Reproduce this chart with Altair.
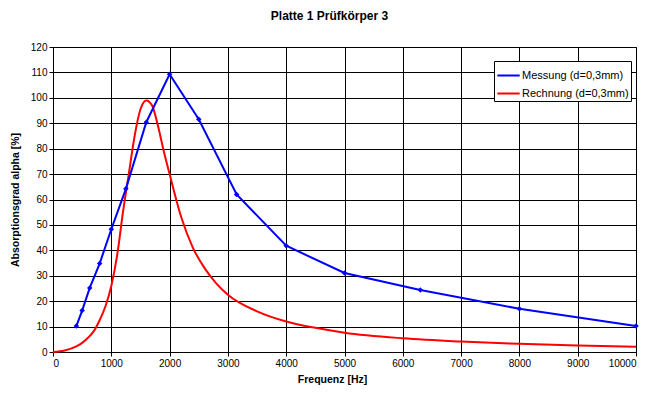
import altair as alt
import pandas as pd

# Messung (measured) – third-octave frequencies
mess_freq = [400, 500, 630, 800, 1000, 1250, 1600, 2000, 2500, 3150, 4000, 5000, 6300, 8000, 10000]
mess_val = [10.2, 16.3, 25.2, 34.8, 48.3, 64.2, 90.4, 109.3, 91.6, 62.0, 41.8, 31.1, 24.4, 17.0, 10.2]

# Rechnung (calculated)
rech_freq = [0, 200, 400, 500, 600, 700, 800, 900, 1000, 1100, 1200, 1300, 1400, 1500, 1600,
             1700, 1800, 1900, 2000, 2200, 2400, 2600, 2800, 3000, 3500, 4000, 4500, 5000,
             6000, 7000, 8000, 9000, 10000]
rech_val = [0, 0.6, 2.2, 3.6, 5.6, 8.2, 12.5, 18.0, 26.0, 38.0, 55.0, 70.0, 85.0, 95.5, 99.0,
            97.0, 89.0, 79.0, 70.0, 53.0, 41.0, 33.0, 27.0, 22.5, 16.0, 12.0, 9.5, 7.6,
            5.4, 4.1, 3.2, 2.6, 2.1]

series = ["Messung (d=0,3mm)", "Rechnung (d=0,3mm)"]
colors = ["#0000FF", "#FF0000"]

df_m = pd.DataFrame({"f": mess_freq, "v": mess_val, "s": series[0]})
df_r = pd.DataFrame({"f": rech_freq, "v": rech_val, "s": series[1]})

FONT = "Liberation Sans"

x = alt.X("f:Q", scale=alt.Scale(domain=[0, 10000], nice=False),
          axis=alt.Axis(values=list(range(0, 10001, 1000)), format="d", title="Frequenz [Hz]",
                        titleX=279, titlePadding=6))
y = alt.Y("v:Q", scale=alt.Scale(domain=[0, 120], nice=False),
          axis=alt.Axis(values=list(range(0, 121, 10)), title="Absorptionsgrad alpha [%]",
                        titlePadding=10))
color = alt.Color("s:N", scale=alt.Scale(domain=series, range=colors),
                  legend=alt.Legend(title=None, orient="none", legendX=441, legendY=14,
                                    fillColor="white", strokeColor="black", padding=2,
                                    symbolType="stroke", symbolStrokeWidth=2, symbolSize=500,
                                    symbolOffset=0,
                                    labelFontSize=11, labelFont=FONT, rowPadding=0,
                                    labelOffset=1, cornerRadius=0))

line_m = alt.Chart(df_m).mark_line(strokeWidth=2).encode(x=x, y=y, color=color)
pts_m = alt.Chart(df_m).mark_point(shape="diamond", filled=True, size=30, opacity=1,
                                   color="#0000FF").encode(x=x, y=y)
line_r = alt.Chart(df_r).mark_line(strokeWidth=2, interpolate="monotone").encode(x=x, y=y, color=color)

chart = alt.layer(line_r, line_m, pts_m).properties(
    width=583, height=305,
    autosize=alt.AutoSizeParams(type="none"),
    padding={"left": 45, "top": 39, "right": 4, "bottom": 34},
    title=alt.TitleParams("Platte 1 Prüfkörper 3", font=FONT, fontSize=12, fontWeight="bold",
                          anchor="middle", dx=-15, offset=19, color="black"),
).configure_view(stroke="black", strokeWidth=1).configure_axis(
    gridColor="black", gridOpacity=1, gridWidth=1, domainColor="black",
    tickColor="black", tickSize=4, labelFont=FONT, labelFontSize=10, labelColor="black",
    titleFont=FONT, titleFontSize=10.5, titleFontWeight="bold", titleColor="black",
)

chart.save("out.html", embed_options={"renderer": "svg", "actions": False})
